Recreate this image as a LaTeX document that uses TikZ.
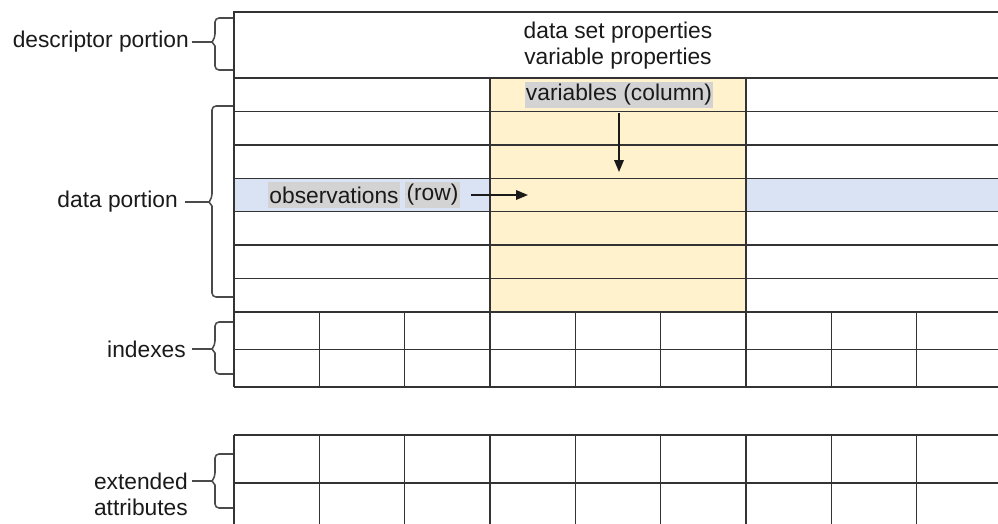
\documentclass[tikz,border=0pt]{standalone}
\usepackage{fontspec}
\setmainfont{Liberation Sans}
\usetikzlibrary{arrows.meta, positioning, calc}
\definecolor{cline}{HTML}{333333}
\definecolor{ctext}{HTML}{1A1A1A}
\definecolor{cyellow}{HTML}{FFF2CC}
\definecolor{cblue}{HTML}{DAE3F3}
\definecolor{cmark}{HTML}{D3D3D3}
\definecolor{cbrace}{HTML}{4A4A4A}
\tikzset{
  every picture/.style={font=\fontsize{16.2}{18.5}\selectfont, text=ctext},
  grid/.style={draw=cline, line width=1.1pt},
  bracket/.style={draw=cbrace, line width=1.1pt, line join=round},
  tick/.style={draw=cbrace, line width=1.1pt},
  label/.style={anchor=east, inner sep=0pt, align=right},
  marked/.style={fill=cmark, inner xsep=0.03cm, inner ysep=0pt, minimum height=0.65cm},
  arrow/.style={-{Triangle[length=0.3cm, width=0.24cm]}, draw=ctext, line width=1.1pt},
}
\begin{document}
\begin{tikzpicture}
  \useasboundingbox (0, 0) rectangle (24.95, -13.075);
  \clip (0, 0) rectangle (24.95, -13.075);
  % highlighted row and column
  \fill[cblue] (5.85, -4.457) rectangle (24.95, -5.293);
  \fill[cyellow] (12.25, -1.95) rectangle (18.65, -7.8);
  % descriptor and data portion
  \draw[grid] (24.95, -0.3) -- (5.85, -0.3) -- (5.85, -9.675);
  \foreach \y in {-1.95, -2.786, -3.621, -4.457, -5.293, -6.129, -6.964, -7.8}
    \draw[grid] (5.85, \y) -- (24.95, \y);
  \draw[grid] (12.25, -1.95) -- (12.25, -7.8);
  \draw[grid] (18.65, -1.95) -- (18.65, -7.8);
  % indexes
  \foreach \y in {-8.7375, -9.675}
    \draw[grid] (5.85, \y) -- (24.95, \y);
  \foreach \k in {1, ..., 8}
    \draw[grid] (5.85 + 2.1333*\k, -7.8) -- (5.85 + 2.1333*\k, -9.675);
  % extended attributes
  \foreach \y in {-10.875, -12.075}
    \draw[grid] (5.85, \y) -- (24.95, \y);
  \foreach \k in {0, ..., 8}
    \draw[grid] (5.85 + 2.1333*\k, -10.875) -- (5.85 + 2.1333*\k, -13.2);

  \node[align=center] (props) at (15.45, -1.15) {data set properties\\variable properties};
  \node[marked] (vars) at (15.475, -2.375) {variables (column)};
  \node[marked] (obs) at (8.35, -4.875) {observations};
  \node[marked, right=0.125cm of obs] (row) {(row)};
  \coordinate (vtip) at (15.475, -4.3);
  \coordinate (htip) at (13.2, -4.875);
  \draw[arrow, shorten <=0.125cm] (vars.south) -- (vtip);
  \draw[arrow, shorten <=0.275cm] (row.east) -- (htip);

  % left side labels and braces
  \node[label] (desc) at (4.725, -1.05) {descriptor portion};
  \node[label] (data) at (4.45, -5.05) {data portion};
  \node[label] (idx) at (4.65, -8.725) {indexes};
  \node[label] (ext) at (4.7, -12.35) {extended\\attributes};
  \coordinate (dtip) at (5.3, -1.05);
  \coordinate (atip) at (5.225, -5.05);
  \coordinate (itip) at (5.3, -8.725);
  \coordinate (etip) at (5.3, -12.025);
  \draw[bracket] (5.825, -0.45) [rounded corners=0.1cm] -- (5.375, -0.45) -- (5.375, -0.95) [sharp corners] -- (dtip) -- (5.375, -1.15) [rounded corners=0.1cm] -- (5.375, -1.75) -- (5.825, -1.75);
  \draw[bracket] (5.825, -2.65) [rounded corners=0.1cm] -- (5.3, -2.65) -- (5.3, -4.95) [sharp corners] -- (atip) -- (5.3, -5.15) [rounded corners=0.1cm] -- (5.3, -7.425) -- (5.825, -7.425);
  \draw[bracket] (5.825, -8.05) [rounded corners=0.1cm] -- (5.375, -8.05) -- (5.375, -8.625) [sharp corners] -- (itip) -- (5.375, -8.825) [rounded corners=0.1cm] -- (5.375, -9.35) -- (5.825, -9.35);
  \draw[bracket] (5.825, -11.35) [rounded corners=0.1cm] -- (5.375, -11.35) -- (5.375, -11.925) [sharp corners] -- (etip) -- (5.375, -12.125) [rounded corners=0.1cm] -- (5.375, -12.7) -- (5.825, -12.7);
  \draw[tick, shorten <=0.075cm] (desc.east) -- (dtip);
  \draw[tick, shorten <=0.175cm] (data.east) -- (atip);
  \draw[tick, shorten <=0.15cm] (idx.east) -- (itip);
  \draw[tick, shorten <=0.1cm] (etip -| ext.east) -- (etip);
\end{tikzpicture}
\end{document}
